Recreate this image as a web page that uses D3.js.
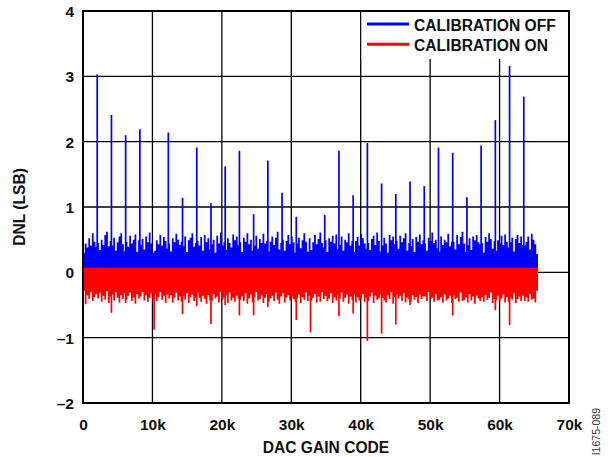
<!DOCTYPE html>
<html>
<head>
<meta charset="utf-8">
<script src="https://cdn.jsdelivr.net/npm/d3@7"></script>
<style>
  html, body { margin: 0; padding: 0; background: #fff; }
  svg { display: block; font-family: "Liberation Sans", Arial, sans-serif; }
</style>
</head>
<body>
<svg id="chart" width="610" height="457"></svg>
<script>
// ---------------- DATA ----------------
const xTicks = [0, 10000, 20000, 30000, 40000, 50000, 60000, 70000];
const xTickLabels = ["0", "10k", "20k", "30k", "40k", "50k", "60k", "70k"];
const yTicks = [-2, -1, 0, 1, 2, 3, 4];
const yTickLabels = ["\u20132", "\u20131", "0", "1", "2", "3", "4"];
const seriesNames = ["CALIBRATION OFF", "CALIBRATION ON"];

const binSize = 256;      // codes per envelope bin
const lastCode = 65536;

// Calibration OFF: upper envelope of the DNL trace, per 256-code bin
const offEnvelope = [
  0.30,0.44,0.38,0.52,0.41,0.60,0.47,0.39, 0.45,0.34,0.50,0.42,0.57,0.62,0.40,0.48,
  0.41,0.53,0.33,0.46,0.55,0.60,0.43,0.32, 0.47,0.39,0.56,0.44,0.50,0.58,0.31,0.49,
  0.42,0.51,0.35,0.55,0.46,0.61,0.44,0.30, 0.33,0.49,0.43,0.57,0.41,0.54,0.48,0.36,
  0.44,0.32,0.52,0.46,0.59,0.50,0.42,0.47, 0.40,0.55,0.31,0.49,0.53,0.60,0.39,0.45,
  0.48,0.41,0.54,0.33,0.57,0.46,0.52,0.35, 0.43,0.50,0.30,0.56,0.44,0.61,0.41,0.47,
  0.34,0.52,0.45,0.38,0.58,0.49,0.55,0.42, 0.46,0.31,0.53,0.47,0.60,0.43,0.50,0.33,
  0.41,0.56,0.36,0.51,0.45,0.59,0.44,0.48, 0.32,0.47,0.55,0.42,0.53,0.62,0.35,0.45,
  0.50,0.33,0.48,0.57,0.43,0.55,0.46,0.30, 0.44,0.53,0.37,0.49,0.60,0.47,0.32,0.52,
  0.34,0.46,0.57,0.43,0.51,0.61,0.45,0.38, 0.49,0.31,0.52,0.47,0.56,0.44,0.58,0.35,
  0.42,0.55,0.33,0.50,0.46,0.60,0.41,0.48, 0.31,0.48,0.54,0.41,0.59,0.52,0.44,0.36,
  0.45,0.34,0.51,0.56,0.42,0.61,0.48,0.32, 0.41,0.53,0.44,0.30,0.57,0.49,0.55,0.43,
  0.48,0.36,0.56,0.46,0.52,0.60,0.33,0.45, 0.40,0.51,0.31,0.54,0.47,0.58,0.43,0.49,
  0.44,0.33,0.53,0.48,0.61,0.45,0.50,0.37, 0.32,0.55,0.42,0.50,0.46,0.59,0.40,0.47,
  0.47,0.35,0.57,0.43,0.54,0.62,0.44,0.31, 0.42,0.52,0.34,0.55,0.49,0.57,0.46,0.43,
  0.45,0.30,0.54,0.47,0.60,0.51,0.36,0.48, 0.33,0.49,0.44,0.56,0.42,0.58,0.47,0.38,
  0.46,0.53,0.32,0.51,0.57,0.45,0.55,0.42, 0.41,0.47,0.55,0.35,0.59,0.50,0.43,0.28
];

// Calibration ON: lower envelope of the DNL trace, per 256-code bin
const onEnvelope = [
  -0.28,-0.49,-0.35,-0.41,-0.30,-0.44,-0.38,-0.33, -0.40,-0.31,-0.45,-0.36,-0.42,-0.29,-0.47,-0.37,
  -0.34,-0.43,-0.30,-0.39,-0.46,-0.35,-0.41,-0.32, -0.42,-0.36,-0.31,-0.44,-0.38,-0.48,-0.33,-0.40,
  -0.37,-0.30,-0.43,-0.35,-0.45,-0.39,-0.32,-0.41, -0.33,-0.44,-0.38,-0.30,-0.42,-0.36,-0.47,-0.34,
  -0.40,-0.35,-0.46,-0.39,-0.31,-0.43,-0.37,-0.45, -0.36,-0.42,-0.32,-0.47,-0.38,-0.34,-0.44,-0.39,
  -0.31,-0.39,-0.45,-0.36,-0.41,-0.48,-0.35,-0.43, -0.44,-0.33,-0.40,-0.37,-0.46,-0.30,-0.42,-0.38,
  -0.35,-0.47,-0.31,-0.43,-0.39,-0.45,-0.36,-0.41, -0.42,-0.37,-0.44,-0.32,-0.48,-0.40,-0.34,-0.46,
  -0.38,-0.30,-0.43,-0.41,-0.35,-0.47,-0.39,-0.33, -0.45,-0.40,-0.36,-0.44,-0.31,-0.42,-0.48,-0.37,
  -0.32,-0.46,-0.39,-0.35,-0.43,-0.37,-0.41,-0.45, -0.40,-0.34,-0.47,-0.38,-0.42,-0.31,-0.44,-0.36,
  -0.43,-0.39,-0.33,-0.46,-0.37,-0.45,-0.30,-0.41, -0.36,-0.44,-0.40,-0.32,-0.47,-0.38,-0.43,-0.35,
  -0.41,-0.31,-0.45,-0.39,-0.34,-0.48,-0.37,-0.42, -0.34,-0.46,-0.38,-0.43,-0.40,-0.33,-0.45,-0.39,
  -0.44,-0.37,-0.31,-0.47,-0.36,-0.42,-0.40,-0.34, -0.39,-0.43,-0.46,-0.35,-0.41,-0.30,-0.48,-0.38,
  -0.33,-0.40,-0.36,-0.44,-0.32,-0.46,-0.39,-0.42, -0.45,-0.35,-0.42,-0.38,-0.47,-0.34,-0.41,-0.37,
  -0.37,-0.44,-0.30,-0.41,-0.39,-0.45,-0.33,-0.43, -0.42,-0.38,-0.46,-0.34,-0.43,-0.40,-0.36,-0.47,
  -0.35,-0.41,-0.39,-0.45,-0.31,-0.44,-0.42,-0.38, -0.46,-0.33,-0.43,-0.37,-0.48,-0.36,-0.40,-0.44,
  -0.38,-0.45,-0.35,-0.42,-0.39,-0.31,-0.47,-0.41, -0.43,-0.36,-0.44,-0.40,-0.34,-0.46,-0.38,-0.45,
  -0.39,-0.42,-0.32,-0.47,-0.41,-0.37,-0.44,-0.36, -0.44,-0.38,-0.45,-0.33,-0.42,-0.40,-0.46,-0.28
];
const onUpper = 0.07;   // small positive DNL of the calibrated trace

// Major-carry codes (multiples of 2048) and the DNL spikes there
const spikeCodes = [
  2048, 4096, 6144, 8192, 10240, 12288, 14336, 16384, 18432, 20480, 22528,
  24576, 26624, 28672, 30720, 32768, 34816, 36864, 38912, 40960, 43008, 45056,
  47104, 49152, 51200, 53248, 55296, 57344, 59392, 61440, 63488
];
const offSpikes = [
  3.03, 2.41, 2.10, 2.19, null, 2.14, 1.14, 1.91, 1.06, 1.62, 1.86,
  0.89, 1.71, 1.22, 0.85, null, 0.88, 1.86, 1.18, 1.98, 1.36, 1.20,
  1.39, 1.32, 1.91, 1.83, 1.15, 1.94, 2.33, 3.16, 2.69
];
const onSpikes = [
  null, -0.62, -0.47, null, -0.88, null, -0.64, -0.52, -0.79, -0.50, -0.66,
  -0.66, -0.53, null, -0.73, -0.92, null, -0.67, -0.63, -1.05, -0.94, -0.80,
  -0.50, null, null, -0.66, null, null, -0.58, -0.81, null
];

// ---------------- CHART ----------------
const svg = d3.select("#chart");
const margin = { left: 83, right: 41, top: 11, bottom: 54 };
const W = 610, H = 457;
const x = d3.scaleLinear().domain([0, 70000]).range([margin.left, W - margin.right]);
const y = d3.scaleLinear().domain([-2, 4]).range([H - margin.bottom, margin.top]);
const blue = "#0000ff", red = "#ff0000";

// grid
const grid = svg.append("g");
grid.selectAll("line.vx").data(xTicks.slice(1, -1)).enter().append("line")
  .attr("x1", d => x(d)).attr("x2", d => x(d))
  .attr("y1", y(4)).attr("y2", y(-2))
  .attr("stroke", "#000").attr("stroke-width", 1.3);
grid.selectAll("line.hy").data(yTicks.slice(1, -1)).enter().append("line")
  .attr("x1", x(0)).attr("x2", x(70000))
  .attr("y1", d => y(d)).attr("y2", d => y(d))
  .attr("stroke", "#000").attr("stroke-width", 1.3);

// envelope data
const offPts = offEnvelope.map((v, i) => ({ code: i * binSize, v }));
offPts.push({ code: lastCode, v: offEnvelope[offEnvelope.length - 1] });
const onPts = onEnvelope.map((v, i) => ({ code: i * binSize, v }));
onPts.push({ code: lastCode, v: onEnvelope[onEnvelope.length - 1] });

const data = svg.append("g");
data.append("path")
  .attr("d", d3.area().curve(d3.curveStepAfter)
    .x(d => x(d.code)).y0(y(0)).y1(d => y(d.v))(offPts))
  .attr("fill", blue);
data.selectAll("line.offspike")
  .data(spikeCodes.map((c, i) => ({ c, v: offSpikes[i] })).filter(d => d.v !== null))
  .enter().append("line")
  .attr("x1", d => x(d.c)).attr("x2", d => x(d.c))
  .attr("y1", y(0)).attr("y2", d => y(d.v))
  .attr("stroke", blue).attr("stroke-width", 1.7);

data.append("path")
  .attr("d", d3.area().curve(d3.curveStepAfter)
    .x(d => x(d.code)).y0(y(onUpper)).y1(d => y(d.v))(onPts))
  .attr("fill", red);
data.selectAll("line.onspike")
  .data(spikeCodes.map((c, i) => ({ c, v: onSpikes[i] })).filter(d => d.v !== null))
  .enter().append("line")
  .attr("x1", d => x(d.c)).attr("x2", d => x(d.c))
  .attr("y1", y(0)).attr("y2", d => y(d.v))
  .attr("stroke", red).attr("stroke-width", 1.7);

// legend
const lg = svg.append("g");
lg.append("rect").attr("x", x(40000) + 1).attr("y", y(4))
  .attr("width", x(70000) - x(40000) - 1).attr("height", 48).attr("fill", "#fff");
const legendColors = [blue, red];
seriesNames.forEach((name, i) => {
  const ly = 24 + i * 20.3;
  lg.append("line").attr("x1", 367).attr("x2", 409).attr("y1", ly).attr("y2", ly)
    .attr("stroke", legendColors[i]).attr("stroke-width", 3);
  lg.append("text").attr("x", 414).attr("y", ly + 6.5)
    .attr("font-size", "15.6px").attr("font-weight", "bold").attr("fill", "#111")
    .text(name);
});

// frame
svg.append("rect").attr("x", x(0)).attr("y", y(4))
  .attr("width", x(70000) - x(0)).attr("height", y(-2) - y(4))
  .attr("fill", "none").attr("stroke", "#000").attr("stroke-width", 2);

// axes (labels only)
const xAxis = svg.append("g").attr("transform", `translate(0,${y(-2)})`)
  .call(d3.axisBottom(x).tickValues(xTicks).tickFormat((d, i) => xTickLabels[i]).tickSize(0));
xAxis.select(".domain").remove();
xAxis.selectAll("text").attr("dy", null).attr("y", 26.5)
  .attr("font-size", "15.5px").attr("font-weight", "bold").attr("fill", "#111")
  .attr("font-family", "Liberation Sans, Arial, sans-serif");

const yAxis = svg.append("g").attr("transform", `translate(${x(0)},0)`)
  .call(d3.axisLeft(y).tickValues(yTicks).tickFormat((d, i) => yTickLabels[i]).tickSize(0).tickPadding(9));
yAxis.select(".domain").remove();
yAxis.selectAll("text").attr("dy", "0.36em")
  .attr("font-size", "15.5px").attr("font-weight", "bold").attr("fill", "#111")
  .attr("font-family", "Liberation Sans, Arial, sans-serif");

// titles
svg.append("text").attr("x", (x(0) + x(70000)) / 2).attr("y", 453)
  .attr("text-anchor", "middle").attr("font-size", "15.6px").attr("font-weight", "bold")
  .attr("fill", "#111").text("DAC GAIN CODE");
svg.append("text").attr("transform", `translate(25,${(y(4) + y(-2)) / 2}) rotate(-90)`)
  .attr("text-anchor", "middle").attr("font-size", "15.6px").attr("font-weight", "bold")
  .attr("fill", "#111").text("DNL (LSB)");
svg.append("text").attr("transform", "translate(600,408) rotate(-90)")
  .attr("text-anchor", "end").attr("font-size", "10.5px").attr("fill", "#333")
  .text("I1675-089");
</script>
</body>
</html>
